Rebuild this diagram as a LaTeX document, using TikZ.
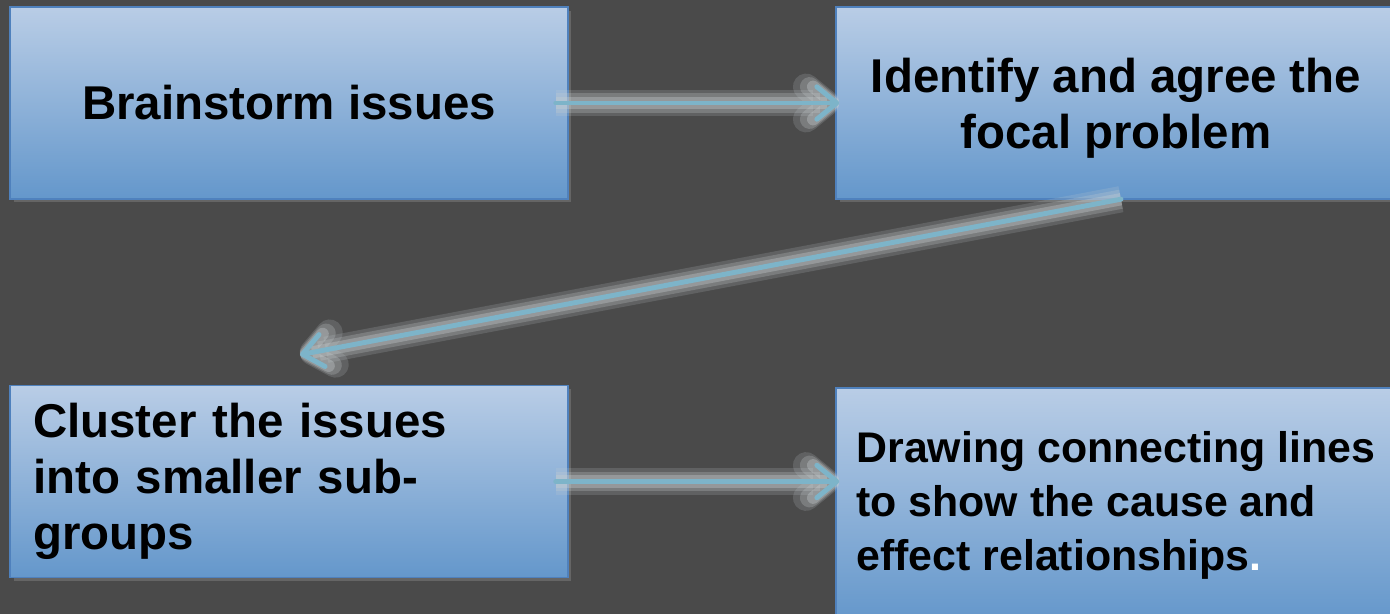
\documentclass[tikz,border=0pt]{standalone}
\usepackage{fontspec}
\setmainfont{Liberation Sans}
\usetikzlibrary{arrows.meta,shadows}
\definecolor{slidebg}{HTML}{4A4A4A}
\definecolor{boxtop}{HTML}{B9CDE6}
\definecolor{boxbottom}{HTML}{6497CB}
\definecolor{boxedge}{HTML}{4F81BD}
\definecolor{flowline}{HTML}{7DB4C9}
\definecolor{flowglow}{HTML}{C8CFD1}
\begin{document}
\begin{tikzpicture}[x=0.02cm, y=-0.02cm,
  stepbox/.style={draw=boxedge, line width=0.9pt,
    top color=boxtop, bottom color=boxbottom,
    drop shadow={shadow xshift=0.07cm, shadow yshift=-0.07cm, opacity=0.5},
    minimum width=11.16cm, minimum height=3.84cm, inner sep=0pt,
    font=\fontsize{27}{32}\selectfont\bfseries},
  flow/.style={draw=flowline, line width=2.8pt, line cap=round, line join=round,
    -{Straight Barb[length=0.4cm,width=0.65cm,round]},
    preaction={draw=flowglow, opacity=0.18, line width=15pt},
    preaction={draw=flowglow, opacity=0.25, line width=11pt},
    preaction={draw=flowglow, opacity=0.35, line width=7pt}}]
  \fill[slidebg] (0,0) rectangle (1390,614);
  \useasboundingbox (0,0) rectangle (1390,614);
  % the four steps
  \node[stepbox] (brainstorm) at (289,103) {Brainstorm issues};
  \node[stepbox, minimum width=11.2cm, align=center] (focal) at (1116,103)
    {\rule{0pt}{0.9cm}Identify and agree the\\focal problem};
  \node[stepbox, text width=10.24cm, align=left] (cluster) at (289,481.5)
    {Cluster the issues\\into smaller sub-\\groups};
  \node[stepbox, minimum width=11.2cm, minimum height=4.68cm, align=left,
    font=\fontsize{24.4}{30.7}\selectfont\bfseries] (linking) at (1116,505)
    {Drawing connecting lines\\to show the cause and\\effect relationships{\color{white}.}};
  % connectors
  \draw[flow, shorten <=-0.26cm, shorten >=-0.08cm] (brainstorm.east) -- (focal.west);
  \draw[flow, shorten <=-0.06cm] ([xshift=0.04cm]focal.south) -- ([shift={(11,-30)}]cluster.north);
  \draw[flow, shorten <=-0.26cm, shorten >=-0.08cm] (cluster.east) -- (cluster.east -| linking.west);
\end{tikzpicture}
\end{document}
